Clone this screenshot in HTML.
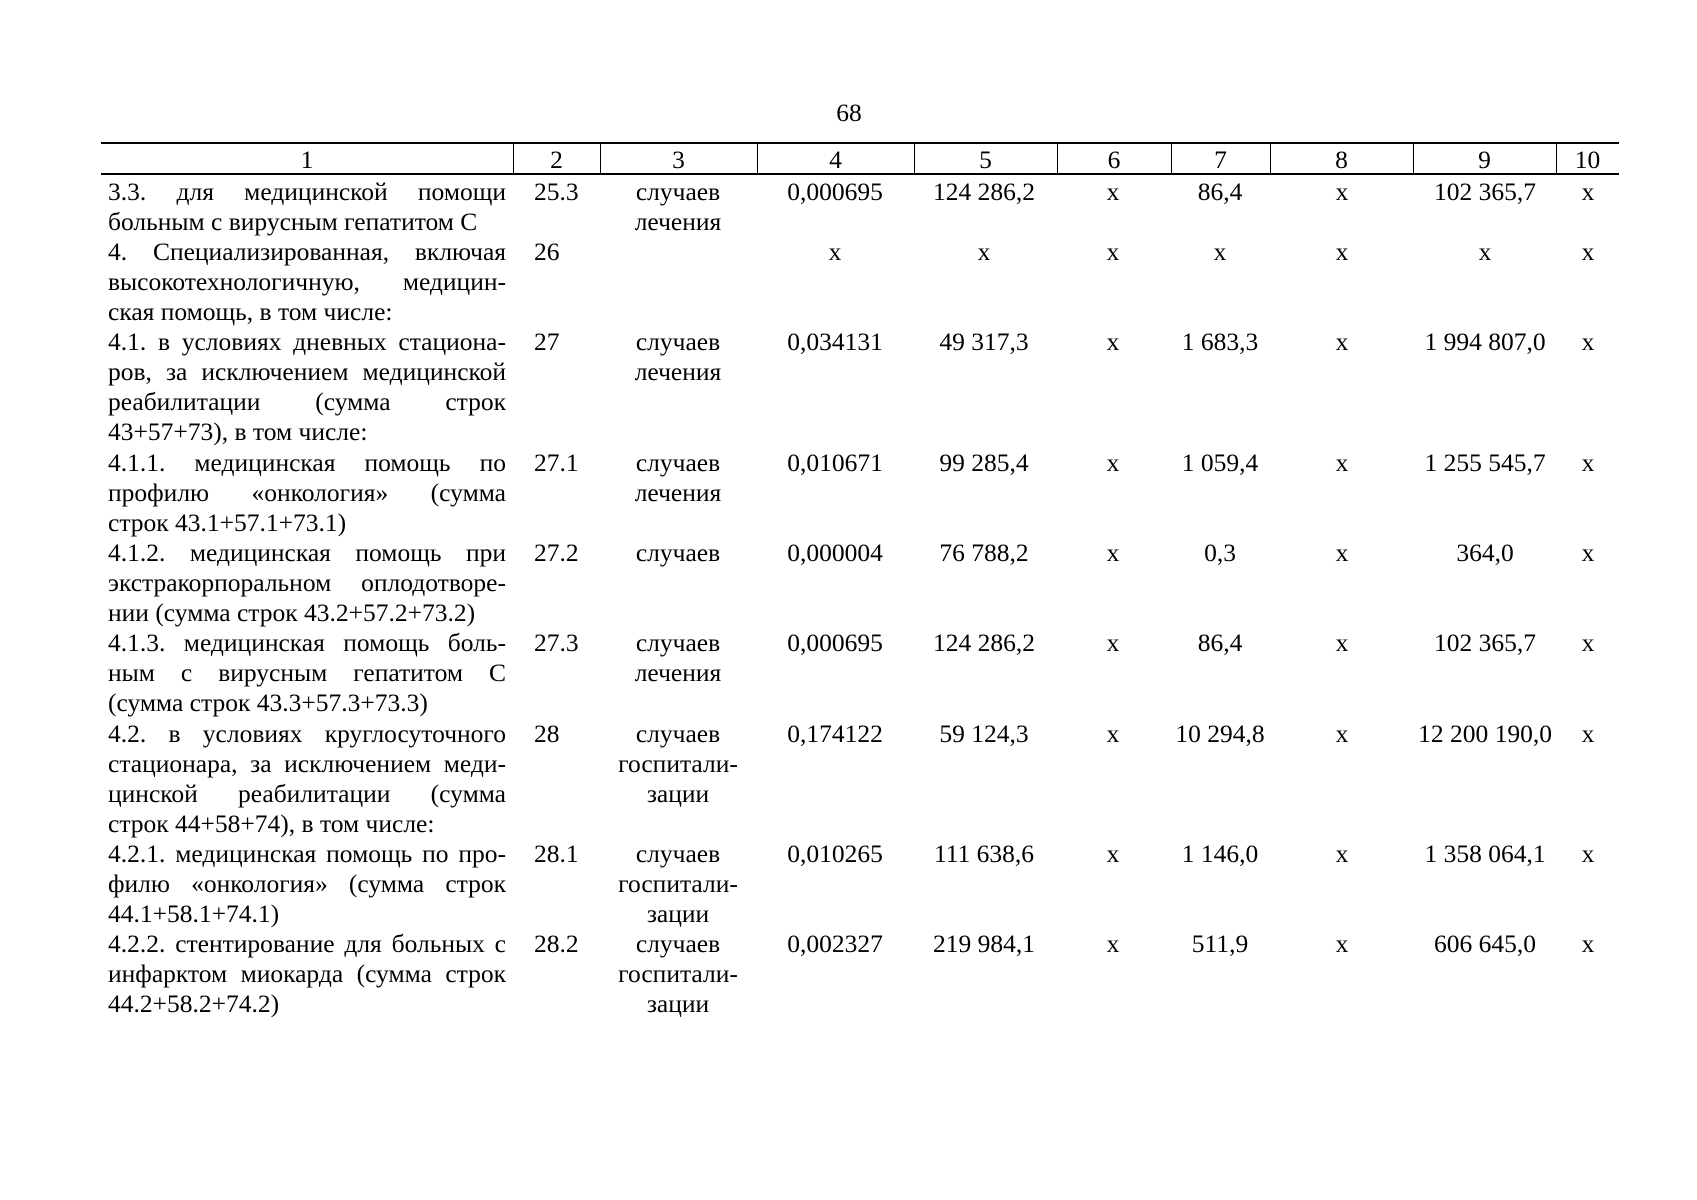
<!DOCTYPE html>
<html><head><meta charset="utf-8"><style>
body{margin:0;width:1697px;height:1200px;background:#fff;position:relative;font-family:"Liberation Serif",serif;font-size:25.5px;color:#000;overflow:hidden}
.pn{position:absolute;top:98px;left:749px;width:200px;text-align:center}
.hl{position:absolute;left:101px;width:1518px;height:2px;background:#000}
.vl{position:absolute;top:143px;height:32px;width:1px;background:#000}
.h{position:absolute;top:144px;height:30px;line-height:32px;text-align:center}
.row{position:absolute;left:0;width:1697px}
.c{position:absolute;top:0;line-height:30.1px;white-space:nowrap}
.c1{left:108px;width:398px}
.c1 div{text-align:justify;text-align-last:justify}
.c1 div.l{text-align-last:left}
.c2{left:534px}
.k{width:160px;text-align:center}
.c3{left:598px}.c4{left:755px}.c5{left:904px}.c6{left:1033px}.c7{left:1140px}.c8{left:1262px}.c9{left:1405px}.c10{left:1508px}
</style></head><body>
<div class="pn">68</div>
<div class="hl" style="top:142px"></div>
<div class="hl" style="top:173px"></div>
<div class="vl" style="left:513px"></div><div class="vl" style="left:600px"></div><div class="vl" style="left:757px"></div><div class="vl" style="left:914px"></div><div class="vl" style="left:1057px"></div><div class="vl" style="left:1171px"></div><div class="vl" style="left:1270px"></div><div class="vl" style="left:1413px"></div><div class="vl" style="left:1556px"></div>
<div class="h" style="left:101px;width:412px">1</div>
<div class="h" style="left:513px;width:87px">2</div>
<div class="h" style="left:600px;width:157px">3</div>
<div class="h" style="left:757px;width:157px">4</div>
<div class="h" style="left:914px;width:143px">5</div>
<div class="h" style="left:1057px;width:114px">6</div>
<div class="h" style="left:1171px;width:99px">7</div>
<div class="h" style="left:1270px;width:143px">8</div>
<div class="h" style="left:1413px;width:143px">9</div>
<div class="h" style="left:1556px;width:63px">10</div>

<div class="row" style="top:177px">
<div class="c c1"><div>3.3. для медицинской помощи</div><div class="l">больным с вирусным гепатитом С</div></div>
<div class="c c2">25.3</div><div class="c k c3">случаев<br>лечения</div><div class="c k c4">0,000695</div><div class="c k c5">124 286,2</div><div class="c k c6">х</div><div class="c k c7">86,4</div><div class="c k c8">х</div><div class="c k c9">102 365,7</div><div class="c k c10">х</div></div>

<div class="row" style="top:237px">
<div class="c c1"><div>4. Специализированная, включая</div><div>высокотехнологичную, медицин-</div><div class="l">ская помощь, в том числе:</div></div>
<div class="c c2">26</div><div class="c k c4">х</div><div class="c k c5">х</div><div class="c k c6">х</div><div class="c k c7">х</div><div class="c k c8">х</div><div class="c k c9">х</div><div class="c k c10">х</div></div>

<div class="row" style="top:327px">
<div class="c c1"><div>4.1. в условиях дневных стациона-</div><div>ров, за исключением медицинской</div><div>реабилитации (сумма строк</div><div class="l">43+57+73), в том числе:</div></div>
<div class="c c2">27</div><div class="c k c3">случаев<br>лечения</div><div class="c k c4">0,034131</div><div class="c k c5">49 317,3</div><div class="c k c6">х</div><div class="c k c7">1 683,3</div><div class="c k c8">х</div><div class="c k c9">1 994 807,0</div><div class="c k c10">х</div></div>

<div class="row" style="top:448px">
<div class="c c1"><div>4.1.1. медицинская помощь по</div><div>профилю «онкология» (сумма</div><div class="l">строк 43.1+57.1+73.1)</div></div>
<div class="c c2">27.1</div><div class="c k c3">случаев<br>лечения</div><div class="c k c4">0,010671</div><div class="c k c5">99 285,4</div><div class="c k c6">х</div><div class="c k c7">1 059,4</div><div class="c k c8">х</div><div class="c k c9">1 255 545,7</div><div class="c k c10">х</div></div>

<div class="row" style="top:538px">
<div class="c c1"><div>4.1.2. медицинская помощь при</div><div>экстракорпоральном оплодотворе-</div><div class="l">нии (сумма строк 43.2+57.2+73.2)</div></div>
<div class="c c2">27.2</div><div class="c k c3">случаев</div><div class="c k c4">0,000004</div><div class="c k c5">76 788,2</div><div class="c k c6">х</div><div class="c k c7">0,3</div><div class="c k c8">х</div><div class="c k c9">364,0</div><div class="c k c10">х</div></div>

<div class="row" style="top:628px">
<div class="c c1"><div>4.1.3. медицинская помощь боль-</div><div>ным с вирусным гепатитом С</div><div class="l">(сумма строк 43.3+57.3+73.3)</div></div>
<div class="c c2">27.3</div><div class="c k c3">случаев<br>лечения</div><div class="c k c4">0,000695</div><div class="c k c5">124 286,2</div><div class="c k c6">х</div><div class="c k c7">86,4</div><div class="c k c8">х</div><div class="c k c9">102 365,7</div><div class="c k c10">х</div></div>

<div class="row" style="top:719px">
<div class="c c1"><div>4.2. в условиях круглосуточного</div><div>стационара, за исключением меди-</div><div>цинской реабилитации (сумма</div><div class="l">строк 44+58+74), в том числе:</div></div>
<div class="c c2">28</div><div class="c k c3">случаев<br>госпитали-<br>зации</div><div class="c k c4">0,174122</div><div class="c k c5">59 124,3</div><div class="c k c6">х</div><div class="c k c7">10 294,8</div><div class="c k c8">х</div><div class="c k c9">12 200 190,0</div><div class="c k c10">х</div></div>

<div class="row" style="top:839px">
<div class="c c1"><div>4.2.1. медицинская помощь по про-</div><div>филю «онкология» (сумма строк</div><div class="l">44.1+58.1+74.1)</div></div>
<div class="c c2">28.1</div><div class="c k c3">случаев<br>госпитали-<br>зации</div><div class="c k c4">0,010265</div><div class="c k c5">111 638,6</div><div class="c k c6">х</div><div class="c k c7">1 146,0</div><div class="c k c8">х</div><div class="c k c9">1 358 064,1</div><div class="c k c10">х</div></div>

<div class="row" style="top:929px">
<div class="c c1"><div>4.2.2. стентирование для больных с</div><div>инфарктом миокарда (сумма строк</div><div class="l">44.2+58.2+74.2)</div></div>
<div class="c c2">28.2</div><div class="c k c3">случаев<br>госпитали-<br>зации</div><div class="c k c4">0,002327</div><div class="c k c5">219 984,1</div><div class="c k c6">х</div><div class="c k c7">511,9</div><div class="c k c8">х</div><div class="c k c9">606 645,0</div><div class="c k c10">х</div></div>
</body></html>
